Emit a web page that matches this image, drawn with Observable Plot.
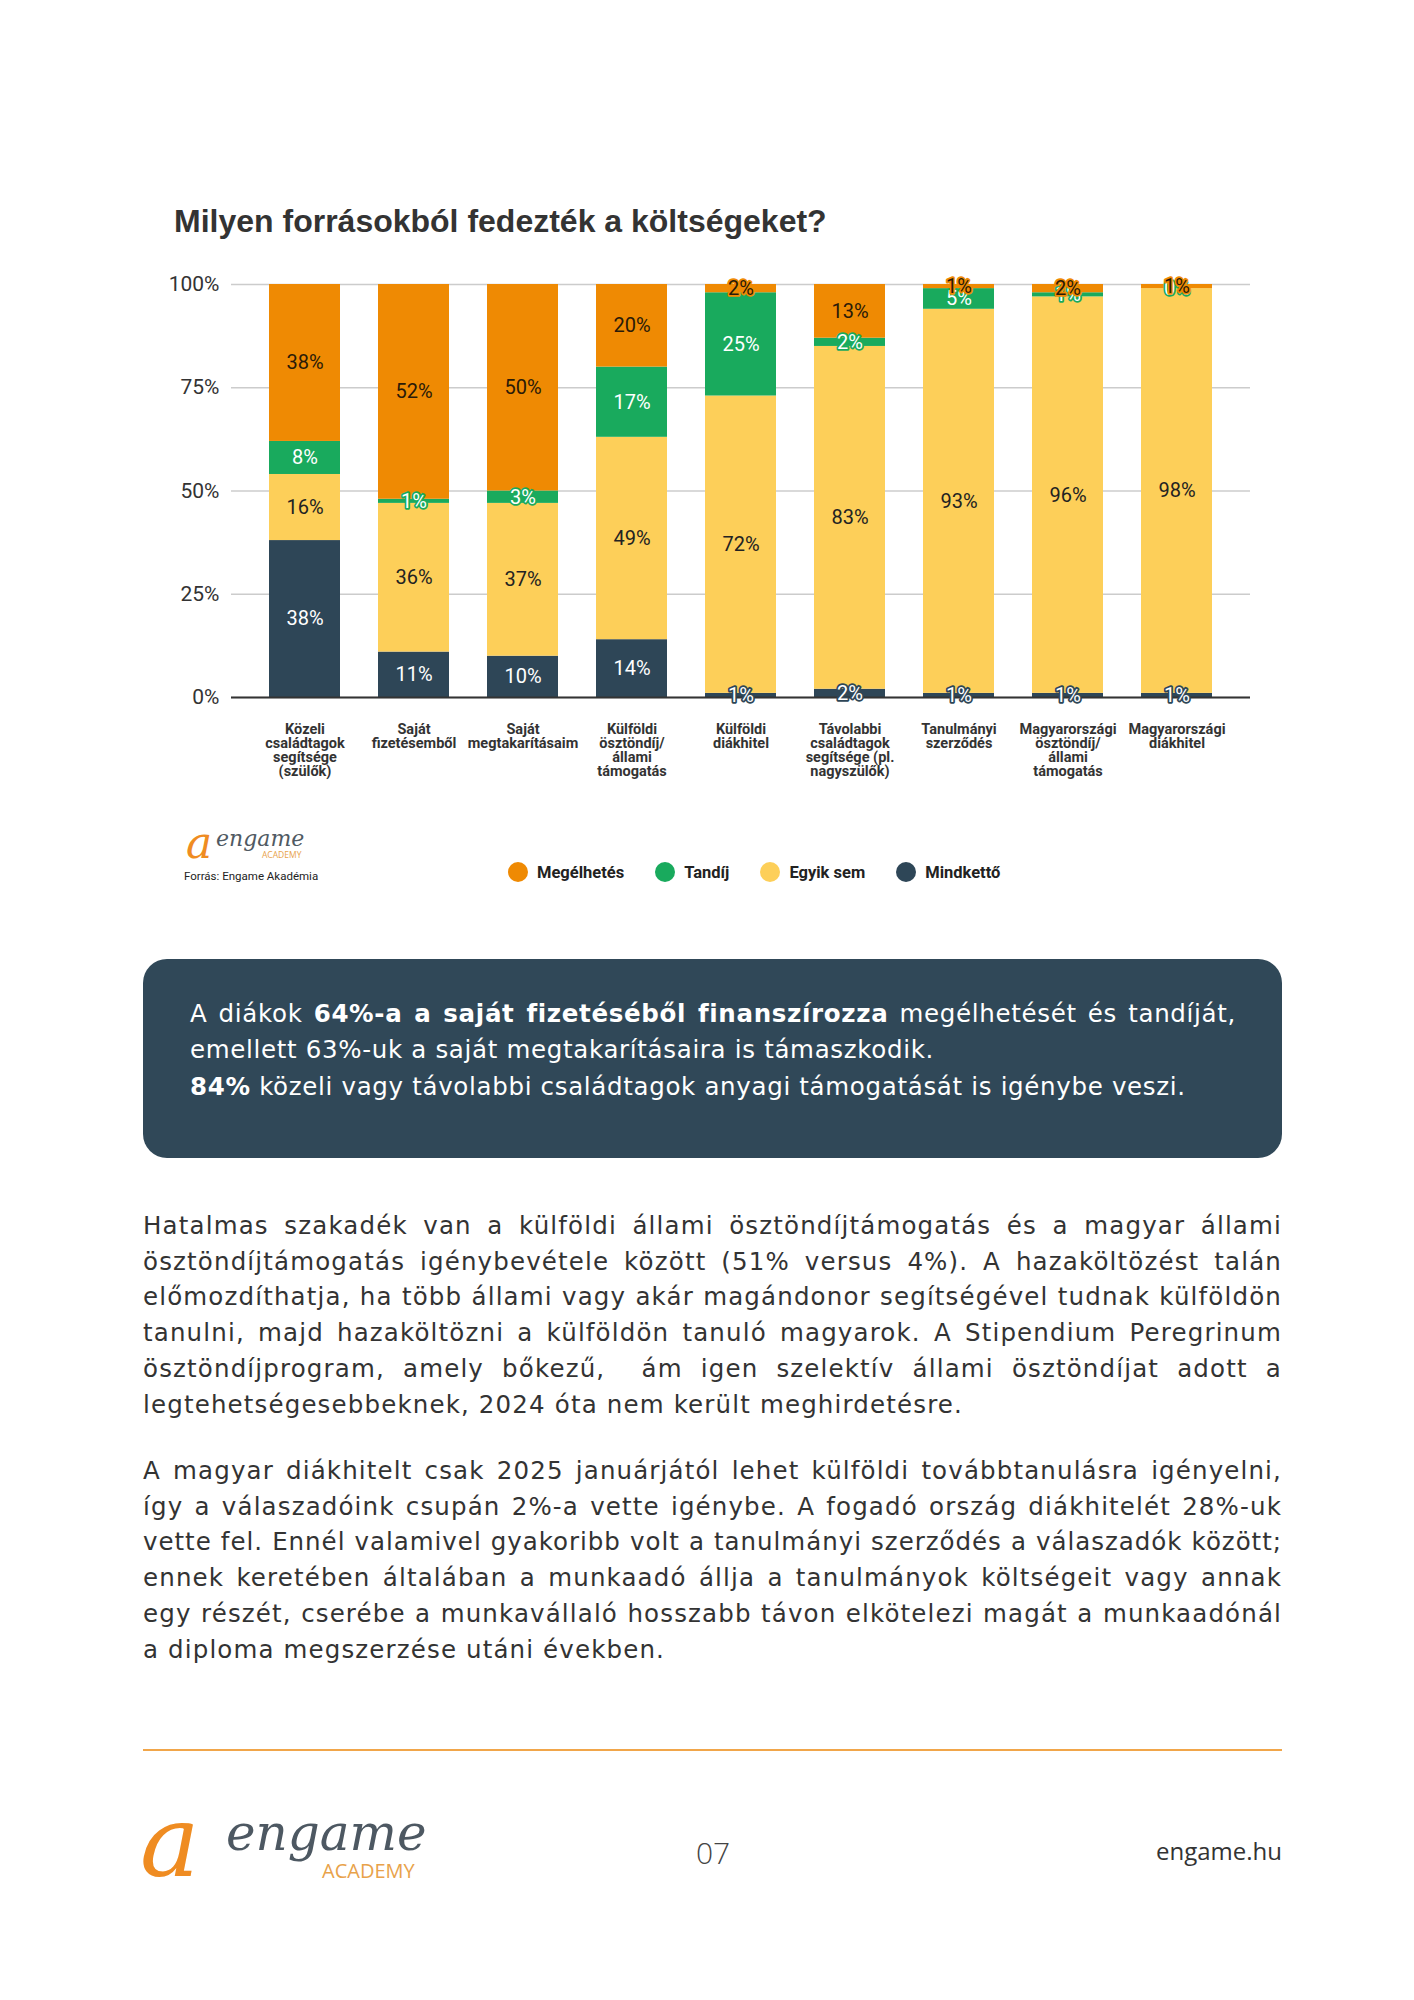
<!DOCTYPE html>
<html>
<head>
<meta charset="utf-8">
<script src="https://cdn.jsdelivr.net/npm/d3@7"></script>
<script src="https://cdn.jsdelivr.net/npm/@observablehq/plot@0.6"></script>
<style>
  html, body { margin: 0; padding: 0; background: #fff; }
  body { width: 1414px; height: 2000px; position: relative; overflow: hidden; font-family: "DejaVu Sans", sans-serif; }
  .abs { position: absolute; }
  #title { left: 174px; top: 203px; font-family: "Liberation Sans", Arial, sans-serif; font-weight: bold; font-size: 32px; line-height: 37px; color: #333; white-space: nowrap; }
  #chart { left: 0; top: 250px; }
  #legend { left: 508px; top: 862px; display: flex; align-items: center; font-family: Roboto, sans-serif; font-weight: bold; font-size: 16.5px; color: #222; }
  #legend .item { display: flex; align-items: center; margin-right: 31px; }
  #legend .dot { width: 20px; height: 20px; border-radius: 50%; margin-right: 9px; }
  #smalllogo { left: 186px; top: 822px; width: 130px; height: 44px; overflow: visible; }
  #source { left: 184px; top: 869px; font-family: Roboto, sans-serif; font-size: 11.5px; color: #222; white-space: nowrap; }
  #box { left: 143px; top: 959px; width: 1139px; height: 199px; background: #304858; border-radius: 24px; box-sizing: border-box; padding: 37px 46px 0 47px; color: #fff; font-size: 24.5px; line-height: 36.3px; }
  .ln { display: block; white-space: nowrap; }
  .para { left: 143px; width: 1139px; color: #333; font-size: 24.5px; line-height: 35.7px; }
  #p1 { top: 1208px; }
  #p2 { top: 1453px; }
  #rule { left: 143px; top: 1749px; width: 1139px; height: 2px; background: #f1a64a; }
  #biglogo { left: 140px; top: 1792px; width: 300px; height: 100px; overflow: visible; }
  #page { left: 663px; top: 1832px; width: 100px; text-align: center; font-family: "Open Sans", sans-serif; font-size: 30px; font-weight: 300; color: #444; }
  #site { right: 132px; top: 1834px; font-family: "Open Sans", sans-serif; font-size: 24px; color: #333; }
</style>
</head>
<body>
<div id="title" class="abs">Milyen forrásokból fedezték a költségeket?</div>
<div id="chart" class="abs"></div>
<svg id="smalllogo" class="abs" viewBox="0 0 130 44">
  <text x="0" y="36" font-family="DejaVu Serif" font-style="italic" font-size="44" fill="#ef8c22">a</text>
  <text x="30" y="24" font-family="DejaVu Serif" font-style="italic" font-size="22" fill="#505a63">engame</text>
  <text x="76" y="36" font-family="Open Sans" font-size="8.5" fill="#e8a24a">ACADEMY</text>
</svg>
<div id="source" class="abs">Forrás: Engame Akadémia</div>
<div id="legend" class="abs"></div>

<div id="box" class="abs" data-last="1" data-target="744">
  <span class="ln j">A diákok <b>64%-a a saját fizetéséből finanszírozza</b> megélhetését és tandíját,</span>
  <span class="ln">emellett 63%-uk a saját megtakarításaira is támaszkodik.</span>
  <span class="ln"><b>84%</b> közeli vagy távolabbi családtagok anyagi támogatását is igénybe veszi.</span>
</div>

<div id="p1" class="abs para" data-last="5" data-target="820">
  <span class="ln j">Hatalmas szakadék van a külföldi állami ösztöndíjtámogatás és a magyar állami</span>
  <span class="ln j">ösztöndíjtámogatás igénybevétele között (51% versus 4%). A hazaköltözést talán</span>
  <span class="ln j">előmozdíthatja, ha több állami vagy akár magándonor segítségével tudnak külföldön</span>
  <span class="ln j">tanulni, majd hazaköltözni a külföldön tanuló magyarok. A Stipendium Peregrinum</span>
  <span class="ln j">ösztöndíjprogram, amely bőkezű, &nbsp;ám igen szelektív állami ösztöndíjat adott a</span>
  <span class="ln">legtehetségesebbeknek, 2024 óta nem került meghirdetésre.</span>
</div>

<div id="p2" class="abs para" data-last="5" data-target="522">
  <span class="ln j">A magyar diákhitelt csak 2025 januárjától lehet külföldi továbbtanulásra igényelni,</span>
  <span class="ln j">így a válaszadóink csupán 2%-a vette igénybe. A fogadó ország diákhitelét 28%-uk</span>
  <span class="ln j">vette fel. Ennél valamivel gyakoribb volt a tanulmányi szerződés a válaszadók között;</span>
  <span class="ln j">ennek keretében általában a munkaadó állja a tanulmányok költségeit vagy annak</span>
  <span class="ln j">egy részét, cserébe a munkavállaló hosszabb távon elkötelezi magát a munkaadónál</span>
  <span class="ln">a diploma megszerzése utáni években.</span>
</div>

<div id="rule" class="abs"></div>
<svg id="biglogo" class="abs" viewBox="0 0 300 100">
  <text x="0" y="84" font-family="DejaVu Serif" font-style="italic" font-size="100" fill="#ef8c22">a</text>
  <text x="86" y="58" font-family="DejaVu Serif" font-style="italic" font-size="50" fill="#4d5862">engame</text>
  <text x="182" y="86" font-family="Open Sans" font-size="20" fill="#e8a24a">ACADEMY</text>
</svg>
<div id="page" class="abs">07</div>
<div id="site" class="abs">engame.hu</div>

<script>
// ---- data ----
const categories = [
  "Közeli\ncsaládtagok\nsegítsége\n(szülők)",
  "Saját\nfizetésemből",
  "Saját\nmegtakarításaim",
  "Külföldi\nösztöndíj/\nállami\ntámogatás",
  "Külföldi\ndiákhitel",
  "Távolabbi\ncsaládtagok\nsegítsége (pl.\nnagyszülők)",
  "Tanulmányi\nszerződés",
  "Magyarországi\nösztöndíj/\nállami\ntámogatás",
  "Magyarországi\ndiákhitel"
];
const mindketto  = [38, 11, 10, 14, 1, 2, 1, 1, 1];
const egyikSem   = [16, 36, 37, 49, 72, 83, 93, 96, 98];
const tandij     = [8, 1, 3, 17, 25, 2, 5, 1, 0];
const megelhetes = [38, 52, 50, 20, 2, 13, 1, 2, 1];
const seriesNames = ["Mindkettő", "Egyik sem", "Tandíj", "Megélhetés"]; // stack order, bottom to top
const seriesValues = [mindketto, egyikSem, tandij, megelhetes];
const legendOrder = ["Megélhetés", "Tandíj", "Egyik sem", "Mindkettő"];
const yTicks = [0, 25, 50, 75, 100];

// ---- styles ----
const colors = {"Mindkettő": "#2e4657", "Egyik sem": "#fdcf59", "Tandíj": "#19aa5d", "Megélhetés": "#ef8a03"};
const labelColors = {"Mindkettő": "#ffffff", "Egyik sem": "#222222", "Tandíj": "#ffffff", "Megélhetés": "#2a1a08"};

// ---- rows ----
const rows = [];
categories.forEach((cat, i) => {
  let acc = 0;
  seriesNames.forEach((s, k) => {
    const v = seriesValues[k][i];
    rows.push({cat, series: s, value: v, y1: acc, y2: acc + v});
    acc += v;
  });
});

const labelMarks = seriesNames.map(s => Plot.text(rows.filter(d => d.series === s), {
  x: "cat",
  y: d => (d.y1 + d.y2) / 2,
  text: d => d.value + "%",
  fill: labelColors[s],
  stroke: colors[s],
  strokeWidth: 3.5,
  fontSize: 20,
  fontFamily: "Roboto"
}));

const chart = Plot.plot({
  width: 1414,
  height: 547,
  marginLeft: 231,
  marginRight: 164,
  marginTop: 34,
  marginBottom: 100,
  style: {fontFamily: "Roboto", background: "transparent", overflow: "visible"},
  x: {domain: categories, paddingInner: 0.353, paddingOuter: 0.338, label: null},
  y: {domain: [0, 100], label: null},
  color: {domain: seriesNames, range: seriesNames.map(s => colors[s])},
  marks: [
    Plot.gridY(yTicks, {stroke: "#cccccc", strokeOpacity: 1, strokeWidth: 1.5}),
    Plot.axisY(yTicks, {tickSize: 0, tickPadding: 12, tickFormat: d => d + "%", fontSize: 21, fill: "#333", label: null}),
    Plot.barY(rows, {x: "cat", y1: "y1", y2: "y2", fill: "series"}),
    Plot.ruleY([0], {stroke: "#333", strokeWidth: 2}),
    ...labelMarks,
    Plot.axisX({tickSize: 0, tickPadding: 26, tickFormat: d => d, fontSize: 14.5, fontWeight: "bold", lineHeight: 0.97, fill: "#333", label: null})
  ]
});
document.getElementById("chart").appendChild(chart);

// ---- legend ----
const legend = document.getElementById("legend");
legendOrder.forEach(s => {
  const item = document.createElement("div");
  item.className = "item";
  const dot = document.createElement("span");
  dot.className = "dot";
  dot.style.background = colors[s];
  const t = document.createElement("span");
  t.textContent = s;
  item.appendChild(dot);
  item.appendChild(t);
  legend.appendChild(item);
});

// ---- text fitting: calibrate tracking to the reference line width, then justify by word spacing ----
function fitBlock(block) {
  const lines = Array.from(block.querySelectorAll(".ln"));
  const calib = lines[+block.dataset.last];
  const target = +block.dataset.target;
  lines.forEach(l => { l.style.display = "inline-block"; });
  const w0 = calib.getBoundingClientRect().width;
  const n = calib.textContent.length;
  const ls = (target - w0) / n;
  block.style.letterSpacing = ls + "px";
  const cs = getComputedStyle(block);
  const full = block.clientWidth - parseFloat(cs.paddingLeft) - parseFloat(cs.paddingRight);
  lines.forEach(l => {
    l.style.wordSpacing = "0px";
    let w = l.getBoundingClientRect().width;
    if (w > full) {
      // too long: tighten this line's tracking until it fits
      l.style.letterSpacing = (ls + (full - w) / l.textContent.length - 0.05) + "px";
      w = l.getBoundingClientRect().width;
    }
    if (l.classList.contains("j")) {
      const spaces = (l.textContent.match(/[ \u00a0]/g) || []).length;
      if (spaces) l.style.wordSpacing = Math.max(0, (full - w) / spaces) + "px";
    }
  });
  lines.forEach(l => { l.style.display = "block"; });
}
["box", "p1", "p2"].forEach(id => fitBlock(document.getElementById(id)));
</script>
</body>
</html>
